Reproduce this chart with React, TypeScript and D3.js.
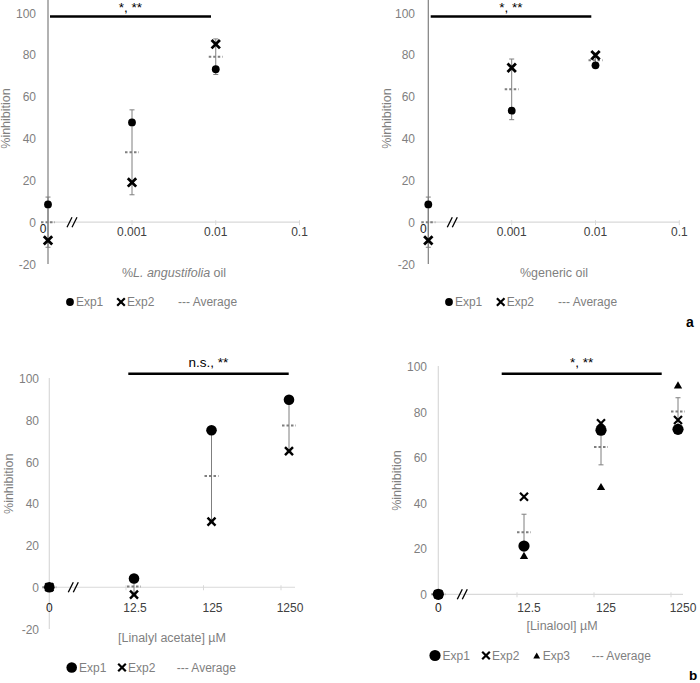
import * as d3 from "d3";

const FONT = "'Liberation Sans', Arial, sans-serif";
const GRAY = "#7f7f7f";
const LIGHT = "#d9d9d9";
const DARK = "#404040";

// panel a: essential oils (% v/v)
const oilConc = [0, 0.001, 0.01];
const oilTicks = [0.001, 0.01, 0.1];
const oilTickLabels = ["0.001", "0.01", "0.1"];
const lavExp1 = [8.5, 47.7, 73.1];
const lavExp2 = [-8.7, 19, 85.1];
const lavAvg = [0, 33.4, 79.1];
const lavErr = [12, 20.3, 8.5];
const genExp1 = [8.5, 53.3, 75];
const genExp2 = [-8.7, 73.8, 79.8];
const genAvg = [0, 63.5, 77.4];
const genErr = [12, 14.5, 3.4];

// panel b: pure compounds (µM)
const cmpConc = [0, 12.5, 125, 1250];
const cmpTicks = [12.5, 125, 1250];
const cmpTickLabels = ["12.5", "125", "1250"];
const laExp1 = [0, 4.2, 75.2, 89.8];
const laExp2 = [0, -3.5, 31.4, 65.2];
const laAvg = [0, 0.4, 53.3, 77.5];
const laErr = [0, 3.8, 21.9, 12.3];
const lnExp1 = [0, 21.2, 72.1, 72.5];
const lnExp2 = [0, 42.9, 75.2, 76.6];
const lnExp3 = [0, 17, 47.3, 92];
const lnAvg = [0, 27.3, 64.7, 80.4];
const lnErr = [0, 7.9, 7.8, 6];

const yTicksA = [-20, 0, 20, 40, 60, 80, 100];
const yTicksB = [0, 20, 40, 60, 80, 100];

type Shape = "circle" | "cross" | "triangle";

function Marker({ shape, x, y, size, sw = 2.4 }: { shape: Shape; x: number; y: number; size: number; sw?: number }) {
  if (shape === "circle") return <circle cx={x} cy={y} r={size} fill="#000" />;
  if (shape === "cross") {
    const s = size;
    return (
      <path
        d={`M${x - s},${y - s}L${x + s},${y + s}M${x - s},${y + s}L${x + s},${y - s}`}
        stroke="#000"
        strokeWidth={sw}
      />
    );
  }
  const tri = d3.symbol().type(d3.symbolTriangle).size(size)();
  return <path d={tri || ""} transform={`translate(${x},${y + 1})`} fill="#000" />;
}

interface PanelCfg {
  conc: number[];
  ticks: number[];
  tickLabels: string[];
  series: { name: string; shape: Shape; values: number[] }[];
  avg: number[];
  err: number[];
  zeroX: number;
  logRange: [number, number];
  axisEnd: number;
  yDomain: [number, number];
  yRange: [number, number];
  yTicks: number[];
  yAxisTop: number;
  yAxisColor: string;
  yLabelX: number;
  yTitleX: number;
  yTitle: string;
  xTitle: any;
  xTitleX: number;
  xTitleY: number;
  xLabelY: number;
  xLabelShift: number;
  tickShift: number;
  sigText: string;
  sigX: [number, number];
  sigY: number;
  sigTextY: number;
  markerSize: number;
  crossSize: number;
  crossWidth: number;
  triSize: number;
  legendY: number;
  legendX: number[];
  avgLegendX: number;
}

function Panel(c: PanelCfg) {
  const logDomain = [c.ticks[0], c.ticks[c.ticks.length - 1]];
  const xLog = d3.scaleLog().domain(logDomain).range(c.logRange);
  const xPos = (v: number) => (v === 0 ? c.zeroX : xLog(v));
  const y = d3.scaleLinear().domain(c.yDomain).range(c.yRange);
  const y0 = y(0);
  const yBottom = y(c.yDomain[0]);
  const negative = c.yDomain[0] < 0;

  const sizeOf = (s: Shape) => (s === "cross" ? c.crossSize : s === "triangle" ? c.triSize : c.markerSize);

  return (
    <g fontFamily={FONT}>
      {/* x axis */}
      <line x1={c.zeroX} x2={c.axisEnd} y1={y0} y2={y0} stroke={LIGHT} strokeWidth={1.2} />
      {c.ticks.map((t, i) => (
        <line key={i} x1={xPos(t) + c.tickShift} x2={xPos(t) + c.tickShift} y1={y0 - 2} y2={y0 + 3} stroke={LIGHT} />
      ))}
      {/* axis break */}
      {[0, 5].map((d, i) => (
        <line
          key={i}
          x1={c.zeroX + 19 + d}
          x2={c.zeroX + 24 + d}
          y1={y0 + 5}
          y2={y0 - 5}
          stroke="#000"
          strokeWidth={1.3}
        />
      ))}
      {/* y axis */}
      <line x1={c.zeroX} x2={c.zeroX} y1={c.yAxisTop} y2={yBottom} stroke={c.yAxisColor} strokeWidth={1.2} />
      {c.yTicks.map((t) => (
        <text key={t} x={c.yLabelX} y={y(t) + 4.5} textAnchor="end" fontSize={12} fill={GRAY}>
          {t}
        </text>
      ))}
      <text
        transform={`translate(${c.yTitleX},${(y(c.yDomain[0]) + y(100)) / 2 + (negative ? -20 : 0)}) rotate(-90)`}
        textAnchor="middle"
        fontSize={12.5}
        fill={GRAY}
      >
        {c.yTitle}
      </text>
      {/* x tick labels */}
      <text x={c.zeroX - (negative && c.xLabelShift === 0 ? 5 : 0)} y={c.xLabelY - (negative && c.xLabelShift === 0 ? 3 : 0)} textAnchor="middle" fontSize={12} fill="#222">
        0
      </text>
      {c.tickLabels.map((l, i) => (
        <text key={l} x={xPos(c.ticks[i]) + c.xLabelShift} y={c.xLabelY} textAnchor="middle" fontSize={12} fill={DARK}>
          {l}
        </text>
      ))}
      <text x={c.xTitleX} y={c.xTitleY} textAnchor="middle" fontSize={12.5} fill={GRAY}>
        {c.xTitle}
      </text>
      {/* error bars */}
      {c.conc.map((v, i) => {
        const x = xPos(v);
        const top = y(c.avg[i] + c.err[i]);
        const bot = y(c.avg[i] - c.err[i]);
        return (
          <g key={i} stroke={GRAY} strokeWidth={1}>
            <line x1={x} x2={x} y1={top} y2={bot} />
            <line x1={x - 2.5} x2={x + 2.5} y1={top} y2={top} />
            <line x1={x - 2.5} x2={x + 2.5} y1={bot} y2={bot} />
          </g>
        );
      })}
      {/* averages */}
      {c.conc.map((v, i) => (
        <line
          key={i}
          x1={xPos(v) - 7}
          x2={xPos(v) + 7}
          y1={y(c.avg[i])}
          y2={y(c.avg[i])}
          stroke={GRAY}
          strokeWidth={2}
          strokeDasharray="2.5,2"
        />
      ))}
      {/* points */}
      {c.series.map((s) =>
        s.values.map((v, i) => (
          <Marker
            key={s.name + i}
            shape={s.shape}
            x={xPos(c.conc[i])}
            y={y(v)}
            size={sizeOf(s.shape)}
            sw={c.crossWidth}
          />
        ))
      )}
      {/* significance */}
      <line x1={c.sigX[0]} x2={c.sigX[1]} y1={c.sigY} y2={c.sigY} stroke="#000" strokeWidth={2.6} />
      <text x={(c.sigX[0] + c.sigX[1]) / 2} y={c.sigTextY} textAnchor="middle" fontSize={13.5} fill="#000">
        {c.sigText}
      </text>
      {/* legend */}
      {c.series.map((s, i) => (
        <g key={s.name}>
          <Marker
            shape={s.shape}
            x={c.legendX[i]}
            y={c.legendY - 4}
            size={s.shape === "cross" ? 3.8 : s.shape === "triangle" ? 20 : c.markerSize}
            sw={2.2}
          />
          <text x={c.legendX[i] + (s.shape === "circle" ? c.markerSize + 2 : 6)} y={c.legendY} fontSize={12} fill={GRAY}>
            {s.name}
          </text>
        </g>
      ))}
      <text x={c.avgLegendX} y={c.legendY} fontSize={12} fill={GRAY}>
        --- Average
      </text>
    </g>
  );
}

const common = {
  yAxisColor: GRAY,
  yTitle: "%inhibition",
  triSize: 30,
};

export default function App() {
  const panels: PanelCfg[] = [
    {
      ...common,
      conc: oilConc,
      ticks: oilTicks,
      tickLabels: oilTickLabels,
      series: [
        { name: "Exp1", shape: "circle", values: lavExp1 },
        { name: "Exp2", shape: "cross", values: lavExp2 },
      ],
      avg: lavAvg,
      err: lavErr,
      zeroX: 48,
      logRange: [132, 299.5],
      axisEnd: 299.5,
      yDomain: [-20, 100],
      yRange: [264, 13],
      yTicks: yTicksA,
      yAxisTop: 0,
      yLabelX: 36,
      yTitleX: 10,
      xTitle: (
        <>
          %<tspan fontStyle="italic">L. angustifolia</tspan> oil
        </>
      ),
      xTitleX: 174,
      xTitleY: 277,
      xLabelY: 236,
      xLabelShift: 0,
      tickShift: 0,
      sigText: "*, **",
      sigX: [50, 211],
      sigY: 16.5,
      sigTextY: 12,
      markerSize: 3.9,
      crossSize: 4.2,
      crossWidth: 2.8,
      legendY: 306,
      legendX: [70, 121],
      avgLegendX: 178,
    },
    {
      ...common,
      conc: oilConc,
      ticks: oilTicks,
      tickLabels: oilTickLabels,
      series: [
        { name: "Exp1", shape: "circle", values: genExp1 },
        { name: "Exp2", shape: "cross", values: genExp2 },
      ],
      avg: genAvg,
      err: genErr,
      zeroX: 428.3,
      logRange: [511.7, 679.3],
      axisEnd: 679.3,
      yDomain: [-20, 100],
      yRange: [264, 13],
      yTicks: yTicksA,
      yAxisTop: 0,
      yLabelX: 415,
      yTitleX: 391,
      xTitle: "%generic oil",
      xTitleX: 554,
      xTitleY: 277,
      xLabelY: 236,
      xLabelShift: 0,
      tickShift: 0,
      sigText: "*, **",
      sigX: [430.7, 591.3],
      sigY: 16.5,
      sigTextY: 12,
      markerSize: 3.9,
      crossSize: 4.2,
      crossWidth: 2.8,
      legendY: 306,
      legendX: [449, 500.7],
      avgLegendX: 558,
    },
    {
      ...common,
      yAxisColor: LIGHT,
      conc: cmpConc,
      ticks: cmpTicks,
      tickLabels: cmpTickLabels,
      series: [
        { name: "Exp1", shape: "circle", values: laExp1 },
        { name: "Exp2", shape: "cross", values: laExp2 },
      ],
      avg: laAvg,
      err: laErr,
      zeroX: 49.3,
      logRange: [134, 289],
      axisEnd: 295,
      yDomain: [-20, 100],
      yRange: [629, 378.5],
      yTicks: yTicksA,
      yAxisTop: 378,
      yLabelX: 39,
      yTitleX: 13,
      xTitle: "[Linalyl acetate] µM",
      xTitleX: 172,
      xTitleY: 642,
      xLabelY: 612,
      xLabelShift: 1,
      tickShift: -8,
      sigText: "n.s., **",
      sigX: [128.3, 288.7],
      sigY: 373.7,
      sigTextY: 366.7,
      markerSize: 5.3,
      crossSize: 4,
      crossWidth: 2.4,
      legendY: 671.5,
      legendX: [71.7, 122],
      avgLegendX: 176.7,
    },
    {
      ...common,
      yAxisColor: LIGHT,
      conc: cmpConc,
      ticks: cmpTicks,
      tickLabels: cmpTickLabels,
      series: [
        { name: "Exp1", shape: "circle", values: lnExp1 },
        { name: "Exp2", shape: "cross", values: lnExp2 },
        { name: "Exp3", shape: "triangle", values: lnExp3 },
      ],
      avg: lnAvg,
      err: lnErr,
      zeroX: 438.3,
      logRange: [524, 678],
      axisEnd: 683,
      yDomain: [0, 100],
      yRange: [594.3, 366.8],
      yTicks: yTicksB,
      yAxisTop: 366,
      yLabelX: 427,
      yTitleX: 401,
      xTitle: "[Linalool] µM",
      xTitleX: 562,
      xTitleY: 630,
      xLabelY: 612,
      xLabelShift: 5,
      tickShift: -7,
      sigText: "*, **",
      sigX: [501.7, 661.7],
      sigY: 373.7,
      sigTextY: 366.7,
      markerSize: 5.6,
      crossSize: 4,
      crossWidth: 2.2,
      legendY: 659.5,
      legendX: [435, 486, 536.7],
      avgLegendX: 591.7,
    },
  ];

  return (
    <svg
      width={700}
      height={683}
      style={{ position: "absolute", left: 0, top: 0, background: "#fff" }}
    >
      <rect width={700} height={683} fill="#fff" />
      {panels.map((p, i) => (
        <Panel key={i} {...p} />
      ))}
      <text x={686} y={327} fontFamily={FONT} fontSize={14} fontWeight="bold">
        a
      </text>
      <text x={689} y={680} fontFamily={FONT} fontSize={13.5} fontWeight="bold">
        b
      </text>
    </svg>
  );
}
